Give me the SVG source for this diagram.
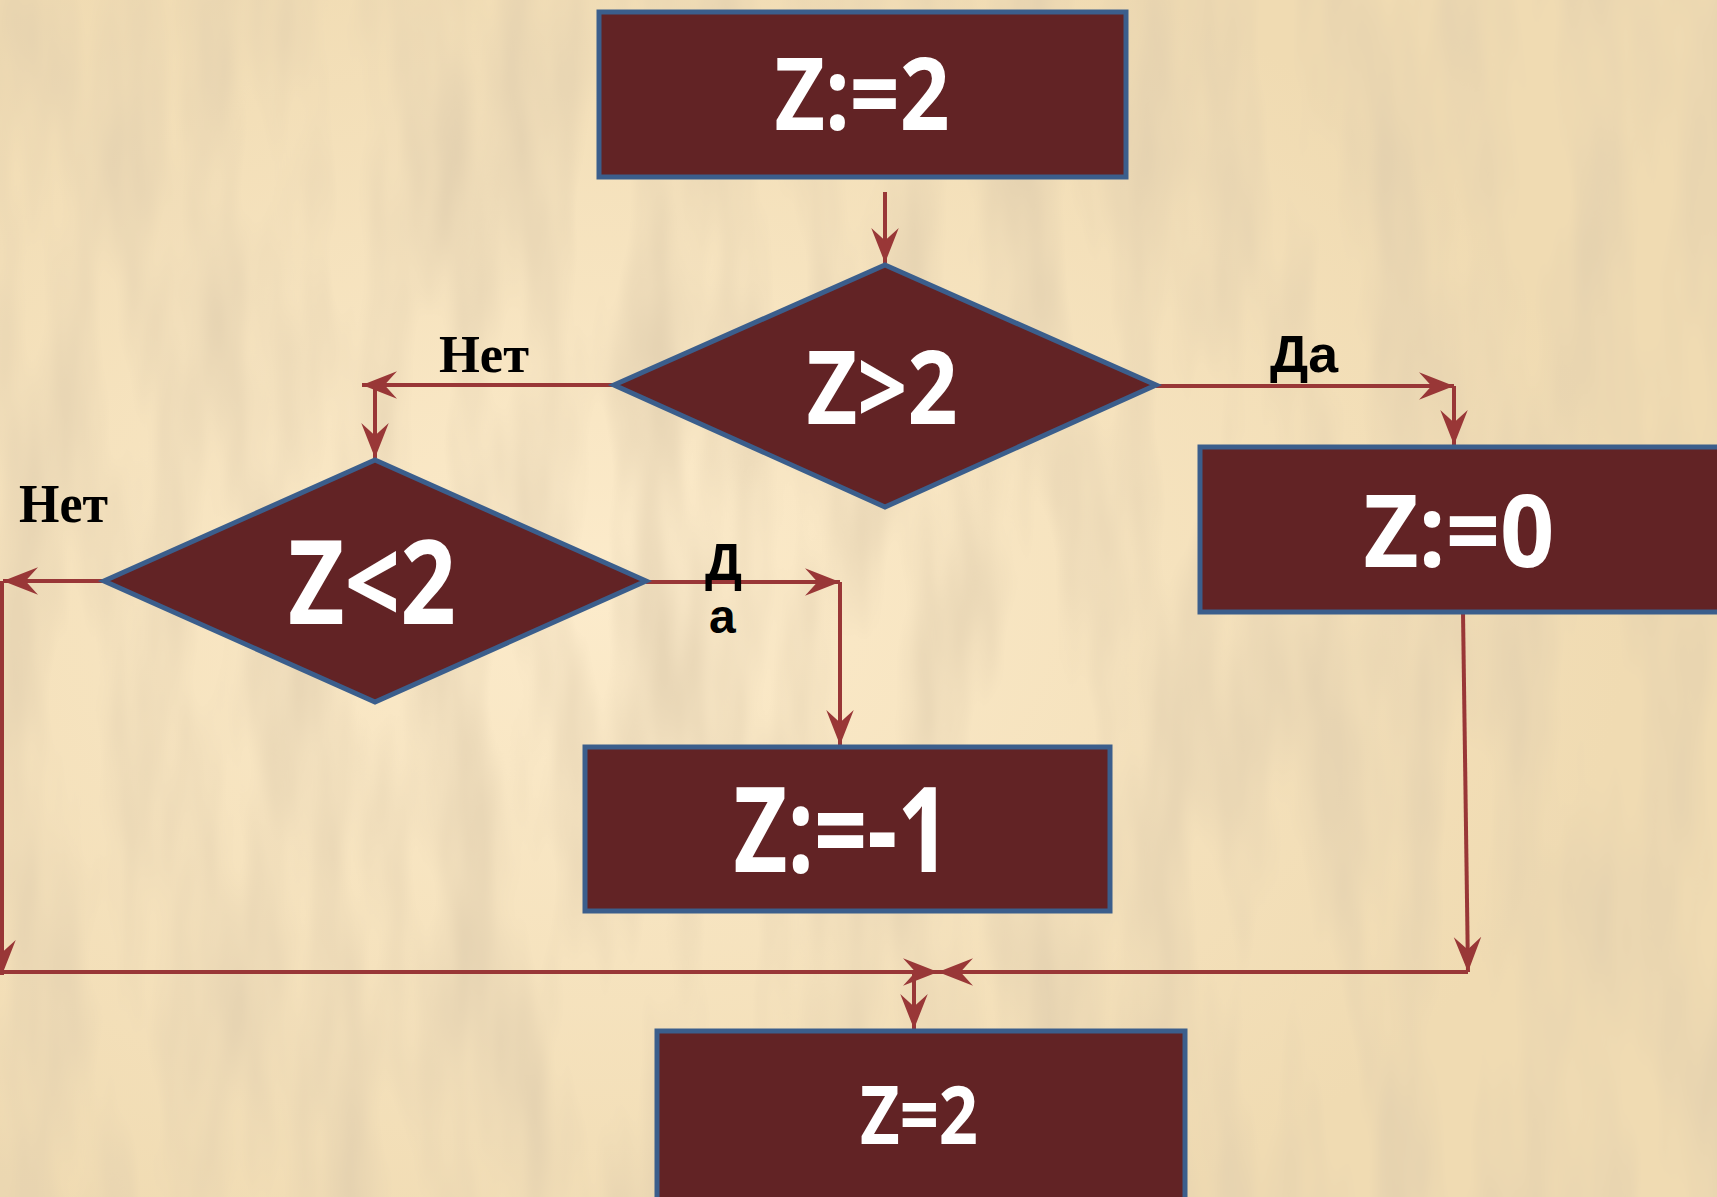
<svg xmlns="http://www.w3.org/2000/svg" width="1717" height="1197" viewBox="0 0 1717 1197">
<defs>
<style>
.box{fill:#622325;stroke:#3B5E8C;stroke-width:5}
.t{fill:#ffffff;font-family:"Open Sans","DejaVu Sans",sans-serif;font-weight:700;text-anchor:middle}
.c{fill:none;stroke:#993737;stroke-width:4}
.ls{font-family:"Liberation Serif","Times New Roman",serif;font-weight:bold;fill:#000}
.la{font-family:"Liberation Sans",Arial,sans-serif;font-weight:bold;fill:#000}
</style>
<marker id="ah" markerUnits="userSpaceOnUse" markerWidth="40" markerHeight="40" viewBox="-30 -14 32 28" refX="0" refY="0" orient="auto">
<path d="M0,0 L-28,-11 L-18,0 L-28,11 Z" fill="#993737"/>
</marker>
<filter id="paper" x="0" y="0" width="100%" height="100%">
<feTurbulence type="fractalNoise" baseFrequency="0.016 0.0035" numOctaves="3" seed="7"/>
<feColorMatrix type="matrix" values="0 0 0 0 0.74  0 0 0 0 0.61  0 0 0 0 0.42  1.5 0 0 0 -0.55"/>
</filter>
<radialGradient id="glow" cx="0.35" cy="0.5" r="0.6">
<stop offset="0" stop-color="#FCEBCB"/>
<stop offset="1" stop-color="#F0DBB2"/>
</radialGradient>
</defs>
<rect x="0" y="0" width="1717" height="1197" fill="url(#glow)"/>
<rect x="0" y="0" width="1717" height="1197" filter="url(#paper)"/>

<g id="connectors">
<line class="c" x1="885" y1="192" x2="885" y2="263" marker-end="url(#ah)"/>
<line class="c" x1="614" y1="385" x2="362" y2="385" marker-end="url(#ah)"/>
<line class="c" x1="375" y1="385" x2="375" y2="458" marker-end="url(#ah)"/>
<line class="c" x1="1156" y1="386" x2="1454" y2="386" marker-end="url(#ah)"/>
<line class="c" x1="1454" y1="386" x2="1454" y2="445" marker-end="url(#ah)"/>
<line class="c" x1="104" y1="581" x2="3" y2="581" marker-end="url(#ah)"/>
<line class="c" x1="2" y1="581" x2="2" y2="975" marker-end="url(#ah)"/>
<line class="c" x1="646" y1="582" x2="840" y2="582" marker-end="url(#ah)"/>
<line class="c" x1="840" y1="582" x2="840" y2="745" marker-end="url(#ah)"/>
<line class="c" x1="1463" y1="612" x2="1468" y2="972" marker-end="url(#ah)"/>
<line class="c" x1="0" y1="972" x2="938" y2="972" marker-end="url(#ah)"/>
<line class="c" x1="1468" y1="972" x2="938" y2="972" marker-end="url(#ah)"/>
<line class="c" x1="914" y1="972" x2="914" y2="1029" marker-end="url(#ah)"/>
</g>

<g id="n1">
<rect class="box" x="599" y="12" width="527" height="165"/>
<text class="t" x="862" y="130" font-size="100" textLength="175" lengthAdjust="spacingAndGlyphs">Z:=2</text>
</g>
<g id="d1">
<polygon class="box" points="885,265 1156,385 885,507 614,385"/>
<text class="t" x="882" y="424" font-size="102" textLength="151" lengthAdjust="spacingAndGlyphs">Z&gt;2</text>
</g>
<g id="d2">
<polygon class="box" points="375,460 646,581 375,702 104,581"/>
<text class="t" x="372" y="624" font-size="117" textLength="168" lengthAdjust="spacingAndGlyphs">Z&lt;2</text>
</g>
<g id="n2">
<rect class="box" x="1200" y="447" width="530" height="165"/>
<text class="t" x="1459" y="567" font-size="100" textLength="191" lengthAdjust="spacingAndGlyphs">Z:=0</text>
</g>
<g id="n3">
<rect class="box" x="585" y="747" width="525" height="164"/>
<text class="t" x="842" y="872" font-size="118" textLength="217" lengthAdjust="spacingAndGlyphs">Z:=-1</text>
</g>
<g id="n4">
<rect class="box" x="657" y="1031" width="528" height="180"/>
<text class="t" x="919" y="1144" font-size="80" textLength="118" lengthAdjust="spacingAndGlyphs">Z=2</text>
</g>

<g id="labels">
<text class="ls" x="439" y="372" font-size="53" textLength="90" lengthAdjust="spacingAndGlyphs">Нет</text>
<text class="ls" x="19" y="522" font-size="55" textLength="89" lengthAdjust="spacingAndGlyphs">Нет</text>
<text class="la" x="1270" y="372" font-size="52" textLength="68" lengthAdjust="spacingAndGlyphs">Да</text>
<text class="la" x="705" y="580" font-size="52">Д</text>
<text class="la" x="709" y="633" font-size="48">а</text>
</g>
</svg>
